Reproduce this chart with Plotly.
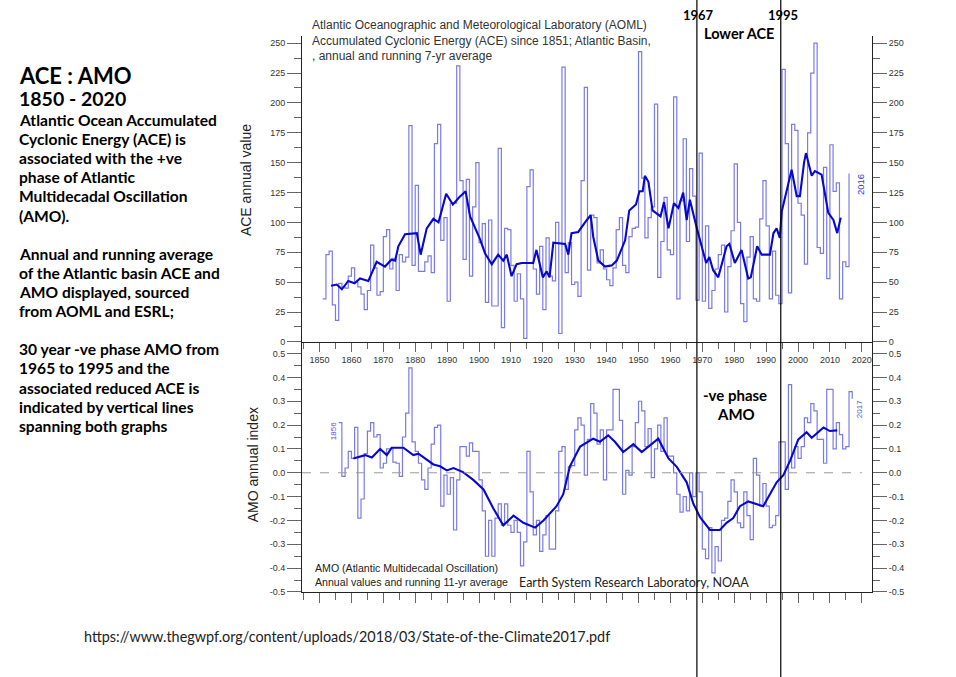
import plotly.graph_objects as go

# ---------------- data ----------------
ace_years = list(range(1851, 2017))
ace_values = [
    36, 73, 76, 31, 18, 49, 46, 45, 55,                      # 1851-1859
    62, 50, 46, 40, 27, 43, 81, 62, 39, 42,                  # 1860s
    88, 94, 61, 70, 43, 73, 67, 71, 181, 64,                 # 1870s
    131, 59, 59, 67, 72, 58, 166, 182, 85, 104,              # 1880s
    34, 116, 116, 231, 135, 69, 136, 55, 113, 150,           # 1890s
    83, 99, 33, 102, 30, 30, 162, 12, 95, 94,                # 1900s
    64, 34, 57, 36, 3, 130, 144, 61, 40, 80,                 # 1910s
    27, 87, 55, 51, 100, 7, 230, 58, 83, 48,                 # 1920s
    50, 38, 135, 213, 60, 106, 104, 66, 77, 61,              # 1930s
    52, 47, 62, 94, 104, 64, 58, 88, 95, 96,                 # 1940s
    243, 137, 87, 104, 113, 199, 54, 84, 121, 77,            # 1950s
    73, 205, 36, 118, 170, 84, 145, 122, 35, 158,            # 1960s
    34, 97, 28, 43, 61, 73, 81, 25, 63, 93,                  # 1970s
    149, 100, 32, 17, 71, 88, 36, 34, 103, 135,              # 1980s
    97, 36, 76, 39, 32, 228, 166, 41, 182, 177,              # 1990s
    116, 106, 65, 175, 225, 250, 79, 74, 146, 53,            # 2000s
    165, 126, 133, 36, 67, 63, 141,                          # 2010-2016
]

ace_avg_years = [
    1853.6, 1855.4, 1857, 1859, 1861, 1862.7, 1865.3, 1867.9, 1870.5, 1872.6,
    1873.7, 1874.7, 1876.8, 1880.5, 1881.7, 1883.6, 1885.7, 1887.3, 1889.7, 1891.8,
    1893.8, 1895.8, 1897.2, 1900.3, 1901.9, 1904, 1906, 1907.6, 1908.7, 1910.2,
    1911.8, 1913.4, 1917, 1918, 1920, 1921.2, 1922.1, 1923.3, 1927, 1928,
    1929, 1931.1, 1933.8, 1935, 1935.8, 1937.4, 1939.5, 1941.6, 1943.2, 1945.8,
    1947.1, 1949.2, 1950.3, 1951.3, 1952, 1953.1, 1954.4, 1956.9, 1958, 1959.4,
    1961.1, 1962.5, 1964, 1965.1, 1966.1, 1968.2, 1971.2, 1972.2, 1973.4, 1975,
    1977.6, 1978.5, 1980.2, 1982.3, 1984.4, 1985.2, 1987.2, 1988.6, 1991.2, 1992.3,
    1993.3, 1994.3, 1994.9, 1998, 1999.6, 2000.6, 2001.9, 2002.5, 2004.3, 2005.3,
    2007.4, 2009.5, 2011.1, 2012.3, 2013.4,
]
ace_avg_values = [
    47, 48, 44, 51, 49, 53, 51, 67, 63, 69,
    68, 80, 90, 91, 73, 95, 103, 100, 124, 115,
    121, 126, 105, 86, 74, 65, 73, 68, 73, 55,
    65, 66, 66, 77, 54, 59, 54, 83, 82, 73,
    91, 92, 102, 106, 88, 68, 63, 64, 68, 85,
    110, 115, 126, 126, 139, 134, 110, 105, 117, 95,
    116, 112, 125, 102, 119, 96, 66, 71, 60, 54,
    80, 82, 66, 77, 53, 54, 80, 73, 73, 91,
    95, 87, 109, 144, 122, 122, 150, 158, 139, 143,
    140, 108, 102, 91, 104,
]

amo_years = list(range(1856, 2018))
amo_values = [
    0.21, -0.015, 0.02, 0.09,                                          # 1856-1859
    0.06, 0.19, -0.19, -0.11, 0.08, 0.175, 0.21, 0.15, 0.16, 0.02,     # 1860s
    0.04, 0.10, 0.10, 0.045, 0.04, -0.015, 0.15, 0.25, 0.44, 0.13,     # 1870s
    0.09, 0.04, -0.03, -0.07, 0.02, 0.12, 0.19, 0.20, -0.14, -0.01,    # 1880s
    -0.09, -0.02, -0.24, -0.03, 0.11, 0.11, 0.07, 0.125, 0.09, 0.09,   # 1890s
    -0.03, -0.16, -0.35, -0.20, -0.35, -0.19, -0.13, -0.22, -0.13, -0.22,  # 1900s
    -0.25, -0.20, -0.25, -0.39, -0.29, 0.09, -0.08, -0.26, -0.20, -0.33,   # 1910s
    -0.26, -0.18, -0.32, -0.32, -0.16, 0.09, 0.11, -0.07, 0.025, 0.03,     # 1920s
    0.18, 0.23, 0.20, -0.01, 0.14, 0.29, 0.25, 0.12, 0.18, -0.03,     # 1930s
    0.18, 0.18, 0.35, 0.35, 0.22, -0.09, 0.01, -0.01, 0.11, 0.21,     # 1940s
    0.30, 0.26, 0.11, 0.185, -0.02, 0.10, 0.20, 0.09, 0.23, 0.07,     # 1950s
    0.07, 0.00, -0.09, -0.165, -0.10, -0.16, 0.00, -0.10, 0.00, -0.08,   # 1960s
    -0.32, -0.36, -0.23, -0.42, -0.31, -0.37, -0.20, -0.19, -0.12, -0.03,  # 1970s
    -0.08, -0.21, -0.23, -0.08, -0.18, -0.28, 0.06, -0.01, -0.14, -0.045,  # 1980s
    -0.14, -0.23, -0.22, -0.18, 0.13, 0.13, -0.07, 0.37, 0.02, 0.11,   # 1990s
    0.06, 0.11, 0.23, 0.21, 0.29, 0.26, 0.14, 0.14, 0.04, 0.35,       # 2000s
    0.35, 0.10, 0.21, 0.16, 0.10, 0.11, 0.34, 0.31,                   # 2010-2017
]

amo_avg_years = [
    1860.6, 1864.3, 1866.4, 1869, 1871.1, 1872.6, 1876.3, 1879.4, 1881, 1883.6,
    1885.7, 1887.8, 1889.9, 1892, 1895, 1898.2, 1901.4, 1904.5, 1906.6, 1907.6,
    1910.8, 1913.9, 1917.6, 1920.2, 1924.3, 1926.4, 1928.5, 1931.7, 1935.8, 1937.9,
    1940.5, 1942.6, 1945.2, 1948.4, 1951, 1953.6, 1956.2, 1959.4, 1962, 1965.1,
    1967.2, 1969.3, 1972.4, 1975.5, 1977.6, 1979.7, 1981.8, 1984.4, 1987, 1989.1,
    1991.2, 1993.3, 1995.4, 1997.5, 2000.1, 2002.7, 2004.3, 2006.9, 2008, 2010,
    2012.3,
]
amo_avg_values = [
    0.06, 0.074, 0.064, 0.10, 0.074, 0.105, 0.105, 0.074, 0.08, 0.055,
    0.035, 0.027, 0.01, 0.02, 0.003, -0.03, -0.07, -0.15, -0.20, -0.22,
    -0.18, -0.21, -0.23, -0.20, -0.14, -0.09, 0.027, 0.11, 0.143, 0.13,
    0.157, 0.13, 0.087, 0.12, 0.087, 0.115, 0.143, 0.06, 0.025, -0.04,
    -0.13, -0.186, -0.24, -0.24, -0.21, -0.19, -0.14, -0.12, -0.13, -0.14,
    -0.09, -0.04, -0.01, 0.05, 0.14, 0.17, 0.147, 0.18, 0.19, 0.175,
    0.178,
]

ace_ticks = [0, 25, 50, 75, 100, 125, 150, 175, 200, 225, 250]
amo_ticks = [-0.5, -0.4, -0.3, -0.2, -0.1, 0.0, 0.1, 0.2, 0.3, 0.4, 0.5]
amo_ticktext = ["-0.5", "-0.4", "-0.3", "-0.2", "-0.1", "0.0", "0.1", "0.2", "0.3", "0.4", "0.5"]
year_ticks = list(range(1850, 2021, 10))
phase_line_years = [1968.3, 1994.6]

left_heading = "ACE : AMO"
left_sub = "1850 - 2020"
left_lines = [
    "Atlantic Ocean Accumulated", "Cyclonic Energy (ACE) is", "associated with the +ve",
    "phase of Atlantic", "Multidecadal Oscillation", "(AMO).", "",
    "Annual and running average", "of the Atlantic basin ACE and", "AMO displayed, sourced",
    "from AOML and ESRL;", "",
    "30 year -ve phase AMO from", "1965 to 1995 and the", "associated reduced ACE is",
    "indicated by vertical lines", "spanning both graphs",
]

# ---------------- layout geometry ----------------
W, H = 956, 677
ML, MR, MT, MB = 302, 84, 36, 85.3
PW = W - ML - MR
PH = H - MT - MB
SPLIT = 250 / PH


def px(xpix):
    return (xpix - ML) / PW


def py(ypix):
    return (H - MB - ypix) / PH


THIN = "rgba(70,70,220,0.72)"
THICK = "#0808cc"
AX = "#222222"
TK = "#666666"
XR = [1844.5, 2023.2]

fig = go.Figure()
fig.add_trace(go.Scatter(x=ace_years, y=ace_values, mode="lines",
                         line=dict(shape="hv", color=THIN, width=1.2),
                         xaxis="x", yaxis="y", hoverinfo="skip"))
fig.add_trace(go.Scatter(x=ace_avg_years, y=ace_avg_values, mode="lines",
                         line=dict(color=THICK, width=2.1),
                         xaxis="x", yaxis="y"))
fig.add_trace(go.Scatter(x=amo_years, y=amo_values, mode="lines",
                         line=dict(shape="hv", color=THIN, width=1.2),
                         xaxis="x2", yaxis="y2", hoverinfo="skip"))
fig.add_trace(go.Scatter(x=amo_avg_years, y=amo_avg_values, mode="lines",
                         line=dict(color=THICK, width=2.1),
                         xaxis="x2", yaxis="y2"))
# invisible traces so the right-hand axes are drawn
fig.add_trace(go.Scatter(x=[None], y=[None], xaxis="x", yaxis="y3", showlegend=False))
fig.add_trace(go.Scatter(x=[None], y=[None], xaxis="x2", yaxis="y4", showlegend=False))

tickfont = dict(family="Liberation Sans, Arial", size=9, color="#333333")

common_y = dict(ticks="outside", ticklen=14, tickcolor=TK, tickwidth=1,
                showline=True, linecolor=AX, linewidth=1, showgrid=False,
                zeroline=False, tickfont=tickfont)

fig.update_layout(
    width=W, height=H, showlegend=False,
    margin=dict(l=ML, r=MR, t=MT, b=MB, pad=0),
    paper_bgcolor="white", plot_bgcolor="white",
    xaxis=dict(domain=[0, 1], anchor="y", range=XR, tickvals=year_ticks,
               ticks="outside", ticklen=9, tickcolor=TK, showline=True,
               linecolor=AX, showgrid=False, zeroline=False, tickfont=tickfont,
               minor=dict(tickmode="linear", tick0=1850, dtick=5, ticks="outside",
                          ticklen=6, tickcolor=TK)),
    xaxis2=dict(domain=[0, 1], anchor="y2", range=XR, tickvals=year_ticks,
                showticklabels=False, ticks="outside", ticklen=10, tickcolor=TK,
                showline=True, linecolor=AX, showgrid=False, zeroline=False,
                minor=dict(tickmode="linear", tick0=1850, dtick=5, ticks="outside",
                           ticklen=7, tickcolor=TK)),
    yaxis=dict(domain=[SPLIT, 1], anchor="x", range=[0, 256], tickvals=ace_ticks,
               minor=dict(tickmode="linear", tick0=0, dtick=12.5, ticks="outside",
                          ticklen=7, tickcolor=TK),
               **common_y),
    yaxis3=dict(overlaying="y", side="right", anchor="x", range=[0, 256],
                tickvals=ace_ticks,
                minor=dict(tickmode="linear", tick0=0, dtick=12.5, ticks="outside",
                           ticklen=7, tickcolor=TK),
                **common_y),
    yaxis2=dict(domain=[0, SPLIT], anchor="x2", range=[-0.5, 0.549],
                tickvals=amo_ticks, ticktext=amo_ticktext,
                minor=dict(tickmode="linear", tick0=0, dtick=0.05, ticks="outside",
                           ticklen=7, tickcolor=TK),
                **common_y),
    yaxis4=dict(overlaying="y2", side="right", anchor="x2", range=[-0.5, 0.549],
                tickvals=amo_ticks, ticktext=amo_ticktext,
                minor=dict(tickmode="linear", tick0=0, dtick=0.05, ticks="outside",
                           ticklen=7, tickcolor=TK),
                **common_y),
)

# zero reference line in the AMO panel
fig.add_shape(type="line", xref="x2", yref="y2", x0=XR[0], x1=2020, y0=0, y1=0,
              line=dict(color="#999999", width=1, dash="dash"))

# vertical lines marking the -ve AMO phase (span the full picture)
for yr in phase_line_years:
    fig.add_shape(type="line", xref="x", yref="paper", x0=yr, x1=yr,
                  y0=py(H), y1=py(0), line=dict(color="black", width=1.2), layer="above")

ann = []


def add_text(text, x, y, size, family="Lato", bold=False, color="black",
             xanchor="left", angle=0):
    if bold:
        text = "<b>" + text + "</b>"
    ann.append(dict(text=text, xref="paper", yref="paper", x=x, y=y,
                    xanchor=xanchor, yanchor="middle", showarrow=False,
                    textangle=angle, font=dict(family=family, size=size, color=color)))


# left-hand explanatory text
add_text(left_heading, px(17), py(75), 22, bold=True)
add_text(left_sub, px(17), py(98), 19.5, bold=True)
for i, line in enumerate(left_lines):
    if line:
        add_text(line, px(17), py(120 + i * 19.1), 15.6, bold=True)

# chart header texts
arial = "Liberation Sans, Arial"
add_text("Atlantic Oceanographic and Meteorological Laboratory (AOML)", px(310), py(25.5), 12, family=arial, color="#333333")
add_text("Accumulated Cyclonic Energy (ACE) since 1851; Atlantic Basin,", px(310), py(41.3), 12, family=arial, color="#333333")
add_text(", annual and running 7-yr average", px(310), py(55.7), 12, family=arial, color="#333333")
add_text("AMO (Atlantic Multidecadal Oscillation)", px(313), py(568), 10.6, family=arial, color="#222222")
add_text("Annual values and running 11-yr average", px(313), py(582), 10.6, family=arial, color="#222222")
add_text("Earth System Research Laboratory, NOAA", px(517), py(582), 12.5, family="Lato", color="#222222")

# axis titles
add_text("ACE annual value", px(246), py(180), 14, family=arial, color="#222222", xanchor="center", angle=-90)
add_text("AMO annual index", px(253), py(465), 14, family=arial, color="#222222", xanchor="center", angle=-90)

# small year markers
add_text("2016", px(860), py(185), 9.5, family=arial, color="#3333cc", xanchor="center", angle=-90)
add_text("2017", px(859), py(409), 8, family=arial, color="#5555cc", xanchor="center", angle=-90)
add_text("1856", px(333), py(431), 8, family=arial, color="#5555cc", xanchor="center", angle=-90)

# phase annotations
add_text("1967", px(698), py(15), 13, bold=True, xanchor="center")
add_text("1995", px(783), py(15), 13, bold=True, xanchor="center")
add_text("Lower ACE", px(738.5), py(34), 14.5, bold=True, xanchor="center")
add_text("-ve phase", px(735), py(395), 15, bold=True, xanchor="center")
add_text("AMO", px(736), py(414), 15, bold=True, xanchor="center")

# source URL
add_text("https://www.thegwpf.org/content/uploads/2018/03/State-of-the-Climate2017.pdf",
         px(82), py(636), 14.4, family="Lato", color="#222222")

fig.update_layout(annotations=ann)
fig.write_html("out.html", config={"displayModeBar": False},
               post_script="document.body.style.margin='0';")
